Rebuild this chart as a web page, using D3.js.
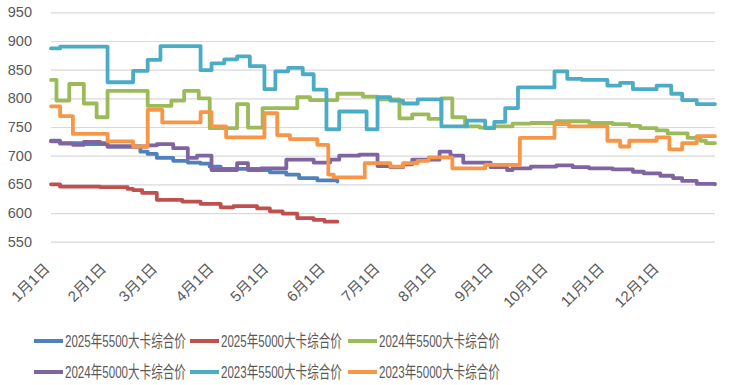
<!DOCTYPE html>
<html>
<head>
<meta charset="utf-8">
<script src="https://cdn.jsdelivr.net/npm/d3@7"></script>
<style>
  body { margin: 0; background: #fff; }
  svg text { font-family: "Liberation Sans", Arial, "Noto Sans CJK SC", sans-serif; fill: #595959; }
</style>
</head>
<body>
<div id="chart"></div>
<script>
// --- data: [date (MM-DD), price], each value holds until the next date ---
const monthLabels = ["1月1日", "2月1日", "3月1日", "4月1日", "5月1日", "6月1日",
  "7月1日", "8月1日", "9月1日", "10月1日", "11月1日", "12月1日"];
const yTicks = [550, 600, 650, 700, 750, 800, 850, 900, 950];

const s2025_5500 = [["01-01",726],["01-06",722],["01-19",720],["02-01",716],["02-19",707],["02-23",703],
  ["02-28",696],["03-09",691],["03-17",688],["03-24",686],["03-29",681],["04-04",677],["04-26",675],
  ["05-01",671],["05-10",667],["05-17",661],["05-27",657],["06-07",655]];

const s2025_5000 = [["01-01",650],["01-06",646],["01-28",645],["02-12",642],["02-15",640],["02-20",635],
  ["02-28",623],["03-14",620],["03-24",616],["04-04",610],["04-11",612],["04-24",608],["05-01",603],
  ["05-08",599],["05-16",591],["05-25",588],["05-31",585],["06-07",585]];

const s2024_5500 = [["01-01",832],["01-04",796],["01-11",825],["01-19",791],["01-26",767],["02-01",813],
  ["02-23",787],["03-08",796],["03-15",813],["03-23",800],["03-29",748],["04-13",790],["04-19",749],
  ["04-27",783],["05-16",802],["05-23",797],["06-07",808],["06-21",803],["06-29",798],["07-11",765],
  ["07-18",772],["07-27",764],["08-03",800],["08-09",767],["08-16",751],["08-24",749],["09-01",751],
  ["09-11",756],["09-21",757],["10-05",760],["10-23",757],["11-05",755],["11-14",752],["11-20",748],
  ["11-29",744],["12-05",739],["12-16",731],["12-23",726],["12-26",722],["12-31",722]];

const s2024_5000 = [["01-01",725],["01-06",721],["01-13",719],["01-19",724],["01-28",722],["02-01",716],
  ["02-23",718],["02-28",720],["03-09",713],["03-17",696],["03-22",700],["03-30",675],["04-13",687],
  ["04-19",675],["04-26",678],["05-10",693],["05-25",688],["06-03",693],["06-08",700],["06-19",702],
  ["06-29",682],["07-06",680],["07-13",685],["07-18",693],["08-02",707],["08-08",700],["08-15",688],
  ["08-30",680],["09-08",675],["09-11",678],["09-21",681],["10-05",683],["10-14",680],["10-23",678],
  ["11-05",676],["11-16",672],["11-22",669],["12-01",665],["12-08",661],["12-13",656],["12-21",651],
  ["12-31",650]];

const s2023_5500 = [["01-01",887],["01-06",890],["02-01",828],["02-15",848],["02-23",867],["03-02",891],
  ["03-24",849],["03-30",861],["04-06",868],["04-13",873],["04-20",856],["04-28",816],["05-04",847],
  ["05-11",853],["05-19",842],["05-25",815],["06-01",746],["06-08",777],["06-23",746],["06-29",802],
  ["07-06",796],["07-13",791],["07-21",798],["08-03",751],["08-17",761],["08-27",748],["09-01",759],
  ["09-07",783],["09-14",819],["10-04",847],["10-11",834],["10-19",832],["11-02",822],["11-09",827],
  ["11-16",816],["11-29",822],["12-07",808],["12-13",797],["12-21",790],["12-31",790]];

const s2023_5000 = [["01-01",786],["01-06",769],["01-13",738],["02-01",725],["02-15",716],["02-23",780],
  ["03-03",758],["03-24",776],["03-30",751],["04-07",732],["04-28",774],["05-05",736],["05-12",729],
  ["05-27",719],["06-02",667],["06-05",662],["06-22",687],["07-06",681],["07-13",687],["07-21",691],
  ["07-27",697],["08-09",678],["08-27",684],["09-15",731],["10-04",755],["10-12",751],["11-02",726],
  ["11-09",716],["11-14",726],["11-29",732],["12-06",711],["12-13",722],["12-21",734],["12-31",734]];

const seriesNames = ["2025年5500大卡综合价", "2025年5000大卡综合价", "2024年5500大卡综合价",
  "2024年5000大卡综合价", "2023年5500大卡综合价", "2023年5000大卡综合价"];
const seriesData = [s2025_5500, s2025_5000, s2024_5500, s2024_5000, s2023_5500, s2023_5000];
const colors = ["#4F81BD", "#C0504D", "#9BBB59", "#8064A2", "#4BACC6", "#F79646"];

// --- sizing ---
const W = 730, H = 385;
const plot = { left: 51, right: 715, top: 12.3, bottom: 241.7 };

const parse = d3.timeParse("%m-%d");

const x = d3.scaleTime()
  .domain([parse("01-01"), parse("12-31")])
  .range([plot.left, plot.right]);

const y = d3.scaleLinear()
  .domain([550, 950])
  .range([plot.bottom, plot.top]);

const svg = d3.select("#chart").append("svg")
  .attr("width", W)
  .attr("height", H);

// gridlines + y labels
const yAxis = d3.axisLeft(y)
  .tickValues(yTicks)
  .tickSize(-(plot.right - plot.left))
  .tickPadding(19);

const gy = svg.append("g")
  .attr("transform", `translate(${plot.left},0)`)
  .call(yAxis);
gy.select(".domain").remove();
gy.selectAll(".tick line").attr("stroke", "#d9d9d9").attr("stroke-width", 1.2);
gy.selectAll(".tick text").style("font-size", "14.5px");

// x labels, rotated
const monthTicks = monthLabels.map((d, i) => new Date(1900, i, 1));
const xAxis = d3.axisBottom(x)
  .tickValues(monthTicks)
  .tickFormat((d, i) => monthLabels[i])
  .tickSize(0);

const gx = svg.append("g")
  .attr("transform", `translate(0,${plot.bottom})`)
  .call(xAxis);
gx.select(".domain").remove();
gx.selectAll(".tick text")
  .style("font-size", "15px")
  .attr("text-anchor", "end")
  .attr("y", 0)
  .attr("dy", 0)
  .attr("transform", "translate(-1,28) rotate(-45)");

// lines
const line = d3.line()
  .x(d => x(parse(d[0])))
  .y(d => y(d[1]))
  .curve(d3.curveStepAfter);

svg.append("g").selectAll("path")
  .data(seriesData)
  .join("path")
  .attr("fill", "none")
  .attr("stroke", (d, i) => colors[i])
  .attr("stroke-width", 3.8)
  .attr("stroke-linejoin", "round")
  .attr("stroke-linecap", "round")
  .attr("d", line);

// legend
const legCols = [34, 190, 348];
const legRows = [341, 372];
const legTextW = 121;

const leg = svg.append("g")
  .selectAll("g")
  .data(seriesNames)
  .join("g")
  .attr("transform", (d, i) => `translate(${legCols[i % 3]},${legRows[Math.floor(i / 3)]})`);

leg.append("line")
  .attr("x1", 0).attr("x2", 29)
  .attr("stroke", (d, i) => colors[i])
  .attr("stroke-width", 4);

// the legend font is condensed in the original: squeeze horizontally
leg.append("text")
  .attr("dy", "0.36em")
  .style("font-size", "17px")
  .text(d => d)
  .attr("transform", function () {
    const k = legTextW / this.getComputedTextLength();
    return `translate(31,0) scale(${k},1)`;
  });
</script>
</body>
</html>
